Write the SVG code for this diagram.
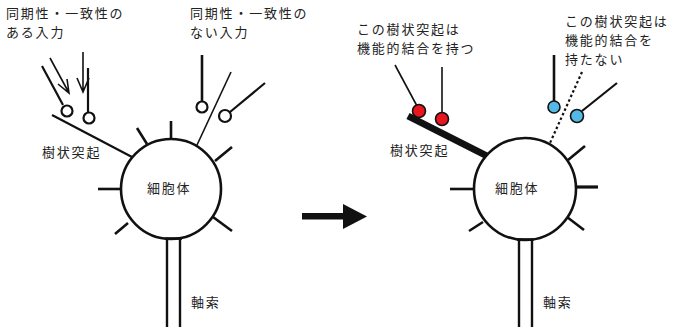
<svg xmlns="http://www.w3.org/2000/svg" width="673" height="327" viewBox="0 0 673 327">
  <style>
    .txt { font-family: "Noto Sans CJK JP", "Noto Sans", sans-serif; font-size: 13px; letter-spacing: 1.8px; fill: #222; }
    .soma { fill: #fff; stroke: #111; stroke-width: 2.6; }
    .spk { stroke: #111; stroke-width: 2.6; fill: none; stroke-linecap: butt; }
    .thin { stroke: #111; stroke-width: 1.6; fill: none; }
    .mid { stroke: #111; stroke-width: 2.2; fill: none; }
    .bouton { fill: #fff; stroke: #111; stroke-width: 2.2; }
    .red { fill: #e8161e; stroke: #111; stroke-width: 1.6; }
    .blue { fill: #55b9e6; stroke: #111; stroke-width: 1.6; }
    .axon { stroke: #111; stroke-width: 2.4; fill: none; }
  </style>

  <!-- Left neuron: inputs with synchrony -->
  <g id="left-neuron">
    <!-- dendrites / spikes -->
    <g class="connectors">
      <line class="spk" x1="171" y1="121" x2="171" y2="141"/>
      <line class="spk" x1="137" y1="128" x2="147" y2="144"/>
      <line class="mid" x1="52" y1="115" x2="132" y2="157"/>
      <line class="thin" x1="231" y1="72" x2="197" y2="145"/>
      <line class="spk" x1="215" y1="161" x2="232" y2="147"/>
      <line class="spk" x1="98" y1="189" x2="121" y2="189"/>
      <line class="spk" x1="115" y1="234" x2="128" y2="223"/>
      <line class="spk" x1="213" y1="217" x2="232" y2="231"/>
      <!-- axon -->
      <line class="axon" x1="167" y1="237" x2="167" y2="327"/>
      <line class="axon" x1="180" y1="237" x2="180" y2="327"/>
    </g>
    <circle class="soma" cx="171" cy="189" r="50"/>
    <line class="spk" x1="165" y1="238.5" x2="182" y2="238.5"/>
    <text class="txt" x="147" y="193">細胞体</text>
  </g>

  <g id="left-inputs">
    <!-- synchronous inputs (arrows) -->
    <path class="thin" d="M50 58 L69 93 M58 84 L69 93 L67 79"/>
    <path class="thin" d="M83 52 L83 92 M77 78 L83 92 L89 78"/>
    <!-- presynaptic terminals -->
    <line class="mid" x1="42" y1="66" x2="63" y2="105"/>
    <circle class="bouton" cx="67" cy="111" r="5.5"/>
    <line class="mid" x1="88" y1="68" x2="88" y2="112"/>
    <circle class="bouton" cx="89" cy="118" r="5.5"/>
    <!-- asynchronous terminals -->
    <line class="spk" x1="202" y1="55" x2="202" y2="101"/>
    <circle class="bouton" cx="202" cy="107" r="5.5"/>
    <line class="mid" x1="265" y1="83" x2="230" y2="112"/>
    <circle class="bouton" cx="225" cy="116" r="6"/>
  </g>

  <g id="left-labels">
    <text class="txt" x="6" y="18">同期性・一致性の</text>
    <text class="txt" x="6" y="37">ある入力</text>
    <text class="txt" x="190" y="17.8">同期性・一致性の</text>
    <text class="txt" x="190" y="36.8">ない入力</text>
    <text class="txt" x="42" y="157">樹状突起</text>
    <text class="txt" x="191" y="307">軸索</text>
  </g>

  <!-- Transition arrow -->
  <g id="transition-arrow">
    <rect x="302" y="213" width="43" height="6.5" fill="#111"/>
    <polygon points="343,204 367,216.5 343,229" fill="#111"/>
  </g>

  <!-- Right neuron: functional coupling -->
  <g id="right-neuron">
    <g class="connectors">
      <line x1="408" y1="116" x2="489" y2="157" stroke="#111" stroke-width="7"/>
      <line class="spk" x1="568" y1="160" x2="585" y2="146"/>
      <line x1="577" y1="187" x2="598" y2="187" stroke="#111" stroke-width="3.2"/>
      <line class="spk" x1="450" y1="189" x2="474" y2="189"/>
      <line class="spk" x1="469" y1="231" x2="483" y2="222"/>
      <line class="spk" x1="567" y1="217" x2="584" y2="230"/>
      <line x1="582" y1="72" x2="550" y2="143" stroke="#111" stroke-width="2.2" stroke-dasharray="2.5 2.5"/>
      <line class="axon" x1="519" y1="238" x2="519" y2="327"/>
      <line class="axon" x1="532" y1="238" x2="532" y2="327"/>
    </g>
    <circle class="soma" cx="525" cy="189" r="51"/>
    <line class="spk" x1="517" y1="239.5" x2="534" y2="239.5"/>
    <text class="txt" x="495" y="193">細胞体</text>
  </g>

  <g id="right-inputs">
    <line class="thin" x1="395" y1="65" x2="417" y2="106"/>
    <circle class="red" cx="419" cy="111" r="6.5"/>
    <line class="thin" x1="442" y1="67" x2="442" y2="113"/>
    <circle class="red" cx="442" cy="119" r="6.5"/>
    <line class="spk" x1="554" y1="55" x2="554" y2="101"/>
    <circle class="blue" cx="554" cy="107" r="6"/>
    <line class="mid" x1="617" y1="83" x2="582" y2="111"/>
    <circle class="blue" cx="577" cy="116" r="6.5"/>
  </g>

  <g id="right-labels">
    <text class="txt" x="357" y="34">この樹状突起は</text>
    <text class="txt" x="357" y="53">機能的結合を持つ</text>
    <text class="txt" x="565" y="26">この樹状突起は</text>
    <text class="txt" x="565" y="45">機能的結合を</text>
    <text class="txt" x="565" y="64">持たない</text>
    <text class="txt" x="390" y="155">樹状突起</text>
    <text class="txt" x="543" y="307">軸索</text>
  </g>
</svg>
